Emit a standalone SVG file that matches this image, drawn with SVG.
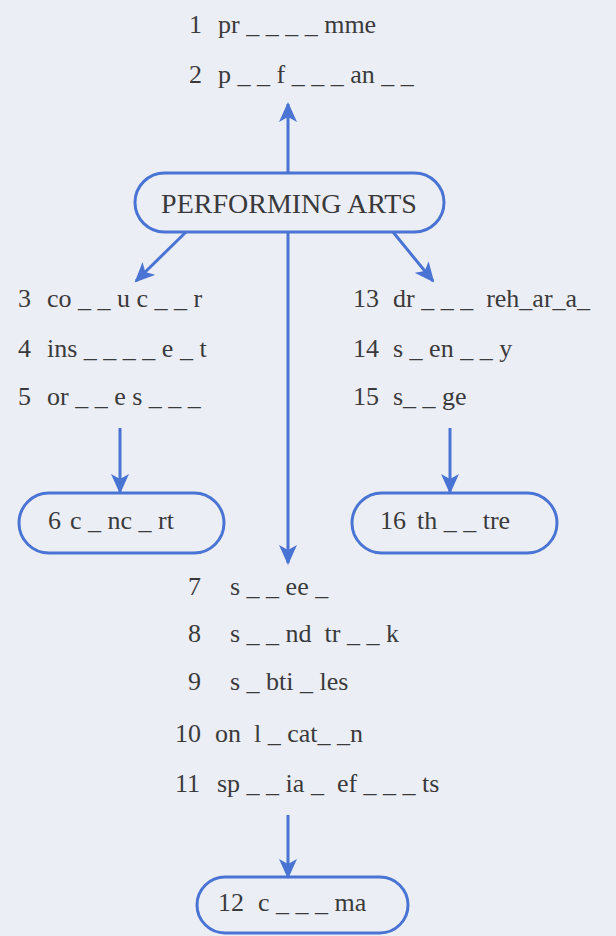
<svg xmlns="http://www.w3.org/2000/svg" width="616" height="936" viewBox="0 0 616 936">
<defs>
<marker id="ah" markerUnits="userSpaceOnUse" markerWidth="20" markerHeight="18" viewBox="0 0 20 18" refX="18" refY="9" orient="auto">
<path d="M0,0 L20,9 L0,18 L5,9 z" fill="#4a74d4"/>
</marker>
</defs>
<rect width="616" height="936" fill="#eceef5"/>
<g id="connectors" stroke="#4a74d4" stroke-width="3" fill="none">
<line x1="288" y1="173" x2="288" y2="104" marker-end="url(#ah)"/>
<line x1="288" y1="232" x2="288" y2="563" marker-end="url(#ah)"/>
<line x1="186" y1="232" x2="136" y2="281" marker-end="url(#ah)"/>
<line x1="393" y1="232" x2="433" y2="281" marker-end="url(#ah)"/>
<line x1="120" y1="428" x2="120" y2="492" marker-end="url(#ah)"/>
<line x1="450" y1="428" x2="450" y2="492" marker-end="url(#ah)"/>
<line x1="288" y1="815" x2="288" y2="877" marker-end="url(#ah)"/>
</g>
<g id="nodes" fill="#3a3a3c" font-size="26">
<g id="n1"><text font-family="Liberation Serif" x="189" y="33">1</text><text font-family="Liberation Serif" x="218" y="33" xml:space="preserve">pr _ _ _ _ mme</text></g>
<g id="n2"><text font-family="Liberation Serif" x="189" y="83">2</text><text font-family="Liberation Serif" x="218" y="83" xml:space="preserve">p _ _ f _ _ _ an _ _</text></g>
<g id="performing-arts">
<rect x="135" y="173" width="309" height="59" rx="29.5" fill="none" stroke="#4a74d4" stroke-width="3"/>
<text font-family="Liberation Serif" font-size="28" x="289" y="213" text-anchor="middle">PERFORMING ARTS</text>
</g>
<g id="n3"><text font-family="Liberation Serif" x="18" y="307">3</text><text font-family="Liberation Serif" x="47" y="307" xml:space="preserve">co _ _ u c _ _ r</text></g>
<g id="n4"><text font-family="Liberation Serif" x="18" y="357">4</text><text font-family="Liberation Serif" x="47" y="357" xml:space="preserve">ins _ _ _ _ e _ t</text></g>
<g id="n5"><text font-family="Liberation Serif" x="18" y="405">5</text><text font-family="Liberation Serif" x="47" y="405" xml:space="preserve">or _ _ e s _ _ _</text></g>
<g id="n13"><text font-family="Liberation Serif" x="353" y="307">13</text><text font-family="Liberation Serif" x="393" y="307" xml:space="preserve">dr _ _ _  reh_ar_a_</text></g>
<g id="n14"><text font-family="Liberation Serif" x="353" y="357">14</text><text font-family="Liberation Serif" x="393" y="357" xml:space="preserve">s _ en _ _ y</text></g>
<g id="n15"><text font-family="Liberation Serif" x="353" y="405">15</text><text font-family="Liberation Serif" x="393" y="405" xml:space="preserve">s_ _ ge</text></g>
<g id="n6">
<rect x="19" y="493" width="205" height="60" rx="30" fill="none" stroke="#4a74d4" stroke-width="3"/>
<text font-family="Liberation Serif" x="48" y="529">6</text><text font-family="Liberation Serif" x="70" y="529" xml:space="preserve">c _ nc _ rt</text>
</g>
<g id="n16">
<rect x="352" y="493" width="205" height="60" rx="30" fill="none" stroke="#4a74d4" stroke-width="3"/>
<text font-family="Liberation Serif" x="380" y="529">16</text><text font-family="Liberation Serif" x="417" y="529" xml:space="preserve">th _ _ tre</text>
</g>
<g id="n7"><text font-family="Liberation Serif" x="188" y="595">7</text><text font-family="Liberation Serif" x="230" y="595" xml:space="preserve">s _ _ ee _</text></g>
<g id="n8"><text font-family="Liberation Serif" x="188" y="642">8</text><text font-family="Liberation Serif" x="230" y="642" xml:space="preserve">s _ _ nd  tr _ _ k</text></g>
<g id="n9"><text font-family="Liberation Serif" x="188" y="690">9</text><text font-family="Liberation Serif" x="230" y="690" xml:space="preserve">s _ bti _ les</text></g>
<g id="n10"><text font-family="Liberation Serif" x="175" y="742">10</text><text font-family="Liberation Serif" x="215" y="742" xml:space="preserve">on  l _ cat_ _n</text></g>
<g id="n11"><text font-family="Liberation Serif" x="175" y="792">11</text><text font-family="Liberation Serif" x="217" y="792" xml:space="preserve">sp _ _ ia _  ef _ _ _ ts</text></g>
<g id="n12">
<rect x="197" y="877" width="211" height="56" rx="28" fill="none" stroke="#4a74d4" stroke-width="3"/>
<text font-family="Liberation Serif" x="218" y="911">12</text><text font-family="Liberation Serif" x="258" y="911" xml:space="preserve">c _ _ _ ma</text>
</g>
</g>
</svg>
